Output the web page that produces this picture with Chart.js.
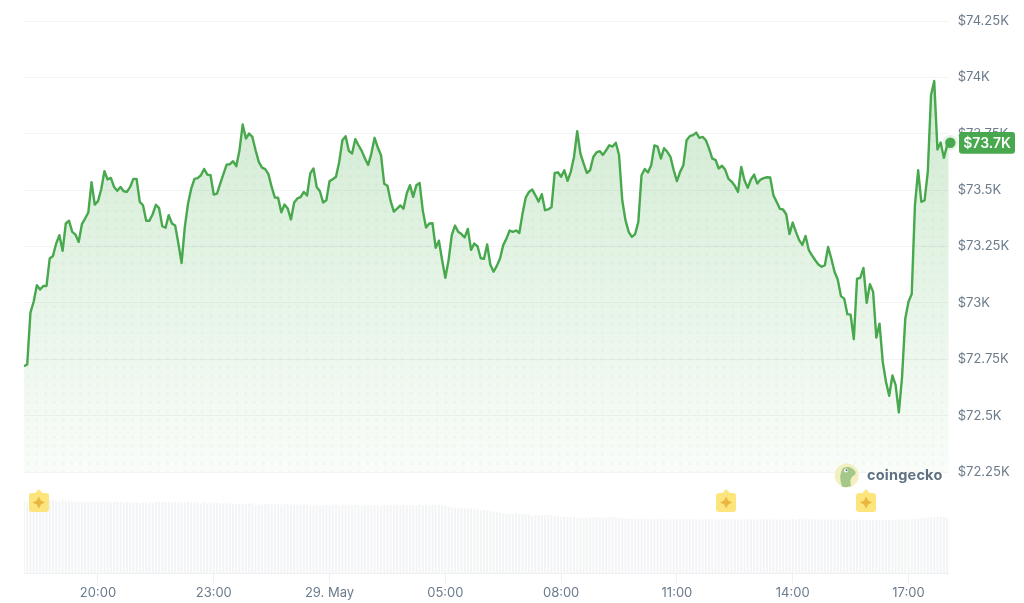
<!DOCTYPE html>
<html>
<head>
<meta charset="utf-8">
<style>
  html, body { margin: 0; padding: 0; background: #fff; }
  canvas { display: block; }
</style>
<script src="https://cdn.jsdelivr.net/npm/chart.js@4/dist/chart.umd.min.js"></script>
</head>
<body>
<canvas id="priceChart" width="1024" height="603"></canvas>
<script>
// one sample every 5 minutes, from 18:05 to 18:05 next day
const prices = [
  72719,72727,72957,73005,73078,73059,73075,73075,73197,73208,
  73263,73300,73231,73352,73364,73315,73303,73270,73349,73374,
  73401,73535,73436,73451,73503,73584,73547,73554,73514,73497,
  73514,73495,73492,73514,73550,73550,73448,73433,73364,73364,
  73393,73435,73420,73340,73333,73389,73352,73343,73263,73177,
  73337,73440,73507,73550,73553,73566,73594,73569,73566,73480,
  73485,73529,73571,73613,73615,73628,73606,73677,73791,73729,
  73751,73736,73677,73625,73600,73593,73571,73514,73467,73466,
  73402,73436,73418,73370,73445,73463,73469,73492,73476,73574,
  73596,73514,73495,73445,73455,73540,73548,73559,73625,73721,
  73739,73674,73662,73726,73699,73674,73640,73612,73662,73732,
  73689,73655,73528,73519,73451,73405,73418,73432,73418,73485,
  73522,73470,73522,73532,73408,73334,73352,73353,73244,73276,
  73189,73111,73189,73300,73343,73315,73305,73290,73328,73235,
  73263,73251,73198,73195,73259,73169,73138,73164,73197,73256,
  73285,73321,73315,73321,73310,73396,73467,73492,73503,73477,
  73449,73482,73411,73415,73424,73576,73579,73559,73588,73541,
  73581,73647,73761,73662,73618,73576,73588,73647,73667,73673,
  73656,73677,73699,73693,73710,73656,73455,73367,73315,73293,
  73305,73359,73566,73594,73578,73610,73698,73693,73640,73686,
  73670,73647,73588,73540,73581,73610,73721,73739,73744,73755,
  73732,73736,73721,73684,73640,73634,73596,73608,73591,73551,
  73538,73519,73492,73603,73544,73510,73547,73569,73529,73547,
  73553,73557,73556,73477,73448,73417,73414,73392,73305,73356,
  73315,73278,73257,73297,73234,73211,73189,73170,73160,73167,
  73248,73197,73138,73104,73030,73019,72950,72948,72839,73107,
  73111,73155,73000,73083,73049,72846,72908,72738,72650,72588,
  72678,72635,72514,72672,72931,73005,73039,73433,73588,73448,
  73455,73581,73921,73984,73680,73711,73643,73699,73710
];

// volume per sample, in $B
const volumes = [
  35.6,35.6,35.5,35.5,35.4,35.5,35.6,35.4,36.1,36.0,
  35.3,35.2,36.2,35.7,35.3,35.1,35.0,35.0,35.1,34.9,
  34.9,35.1,34.7,34.8,35.0,35.0,35.1,34.9,35.0,35.1,
  34.8,34.6,34.9,35.0,34.7,34.9,34.5,34.7,35.0,34.6,
  34.6,35.0,35.1,34.9,35.0,35.1,34.8,34.9,34.7,35.1,
  34.9,35.0,34.8,35.1,34.7,34.4,34.9,34.3,34.6,34.7,
  34.6,34.2,34.2,34.7,34.4,33.8,34.3,34.0,34.3,34.1,
  34.3,34.2,33.5,33.9,33.6,34.3,34.1,33.9,34.0,33.8,
  33.6,34.0,34.0,33.5,33.7,33.8,33.6,33.9,33.7,33.4,
  33.2,33.7,33.1,33.5,33.6,33.4,33.7,33.9,33.3,33.8,
  33.6,33.8,33.4,33.9,33.5,33.2,33.8,33.5,33.3,33.6,
  33.5,32.9,33.6,33.3,33.6,33.7,33.6,33.3,33.7,33.5,
  33.3,33.5,33.2,33.7,33.4,33.6,33.3,33.7,33.6,33.5,
  33.3,33.0,32.7,32.3,32.1,32.0,31.8,31.9,32.0,31.7,
  31.8,31.3,31.0,30.9,30.6,30.5,30.1,29.9,29.6,29.4,
  29.2,29.0,29.2,29.3,29.1,29.0,29.1,28.7,28.2,28.3,
  28.4,28.5,28.6,28.7,28.4,27.9,27.8,27.6,27.8,27.5,
  27.4,27.6,27.2,27.3,27.0,27.2,27.3,27.4,27.5,27.2,
  27.0,27.4,27.3,27.6,27.5,27.0,26.9,26.7,26.8,26.6,
  26.5,26.8,26.6,26.4,26.7,26.5,26.4,26.6,26.8,26.4,
  26.3,26.5,26.4,26.6,26.4,26.3,26.5,26.7,26.5,26.3,
  26.4,26.2,26.6,26.4,26.3,26.5,26.2,26.6,26.4,26.3,
  26.5,26.3,26.2,26.5,26.4,26.3,26.5,26.4,26.2,26.6,
  26.3,26.4,26.7,26.3,26.2,26.4,26.3,26.5,26.2,26.4,
  26.3,26.7,26.9,26.6,26.4,26.5,26.4,26.3,26.5,26.2,
  26.4,26.3,26.5,26.2,26.3,26.4,26.2,26.3,26.1,26.2,
  26.3,26.0,26.2,26.1,26.0,26.2,26.3,26.1,26.0,26.2,
  26.3,26.1,26.4,26.3,26.2,26.5,26.4,26.6,26.7,26.9,
  27.2,27.4,27.5,27.3,27.6,27.5,27.7,27.4,27.5
];

const xTickSamples = [23, 59, 95, 131, 167, 203, 239, 275];
const xTickLabels = ["20:00", "23:00", "29. May", "05:00", "08:00", "11:00", "14:00", "17:00"];
const eventSamples = [4.6, 218.3, 261.8];
const eventLevel = 35.9;

const GREEN = "#48a84d";
const TICK = "#6b7b8a";
const GRID = "#f2f3f5";

const canvas = document.getElementById("priceChart");
const ctx = canvas.getContext("2d");

// area fill fades out towards the bottom of the price pane
const areaFill = ctx.createLinearGradient(0, 60, 0, 472);
areaFill.addColorStop(0, "rgba(76,175,80,0.27)");
areaFill.addColorStop(1, "rgba(76,175,80,0.03)");

// dot texture inside the area
function dotPattern() {
  const tile = document.createElement("canvas");
  tile.width = 87;
  tile.height = 87;
  const t = tile.getContext("2d");
  t.fillStyle = "rgba(76,175,80,0.05)";
  for (let r = 0; r < 10; r++) {
    for (let c = 0; c < 10; c++) {
      t.beginPath();
      t.arc(2.2 + c * 8.7, 2.2 + r * 8.7, 1.6, 0, Math.PI * 2);
      t.fill();
    }
  }
  return ctx.createPattern(tile, "repeat");
}

// yellow event flag
function flagIcon() {
  const icon = document.createElement("canvas");
  icon.width = 20;
  icon.height = 23;
  const f = icon.getContext("2d");
  f.fillStyle = "#fce57c";
  f.beginPath();
  f.moveTo(10, 0);
  f.lineTo(13.5, 4);
  f.lineTo(17, 4);
  f.quadraticCurveTo(20, 4, 20, 7);
  f.lineTo(20, 20);
  f.quadraticCurveTo(20, 23, 17, 23);
  f.lineTo(3, 23);
  f.quadraticCurveTo(0, 23, 0, 20);
  f.lineTo(0, 7);
  f.quadraticCurveTo(0, 4, 3, 4);
  f.lineTo(6.5, 4);
  f.closePath();
  f.fill();
  f.fillStyle = "#e9b640";
  f.beginPath();
  f.moveTo(10, 7.5);
  f.lineTo(12, 11.5);
  f.lineTo(16, 13.5);
  f.lineTo(12, 15.5);
  f.lineTo(10, 19.5);
  f.lineTo(8, 15.5);
  f.lineTo(4, 13.5);
  f.lineTo(8, 11.5);
  f.closePath();
  f.fill();
  return icon;
}

const overlay = {
  id: "overlay",
  afterDraw(chart) {
    const c = chart.ctx;
    const last = prices[prices.length - 1];
    const y = chart.scales.y.getPixelForValue(last);

    // last price badge
    c.save();
    c.fillStyle = GREEN;
    c.beginPath();
    c.roundRect(959, y - 10.7, 56, 21.6, 3);
    c.fill();
    c.fillStyle = "#fff";
    c.font = "600 14px Inter";
    c.textAlign = "center";
    c.textBaseline = "middle";
    c.fillText("$" + (last / 1000).toFixed(1) + "K", 987, y + 0.8);

    // watermark
    c.fillStyle = "#f4efc0";
    c.beginPath();
    c.arc(846.7, 475.5, 12, 0, Math.PI * 2);
    c.fill();
    c.fillStyle = "#a3c88a";
    c.beginPath();
    c.moveTo(842, 486.5);
    c.quadraticCurveTo(838, 474, 843, 468);
    c.quadraticCurveTo(850, 465, 855, 471);
    c.quadraticCurveTo(857, 474, 853, 476);
    c.quadraticCurveTo(849, 479, 851, 486);
    c.quadraticCurveTo(846, 488, 842, 486.5);
    c.fill();
    c.fillStyle = "#fff";
    c.beginPath();
    c.arc(846, 470.5, 2, 0, Math.PI * 2);
    c.fill();
    c.fillStyle = "#5c6f7d";
    c.beginPath();
    c.arc(846.5, 470.2, 1, 0, Math.PI * 2);
    c.fill();
    c.fillStyle = "#5e7180";
    c.font = "700 14.5px Inter";
    c.letterSpacing = "0.2px";
    c.textAlign = "left";
    c.fillText("coingecko", 867, 475.5);
    c.restore();
  }
};

new Chart(canvas, {
  data: {
    datasets: [
      {
        type: "line",
        data: prices.map((v, i) => ({ x: i, y: v })),
        yAxisID: "y",
        borderColor: GREEN,
        borderWidth: 2.4,
        borderJoinStyle: "round",
        pointRadius: 0,
        tension: 0,
        fill: "start",
        backgroundColor: areaFill,
        order: 1
      },
      {
        type: "line",
        data: prices.map((v, i) => ({ x: i, y: v })),
        yAxisID: "y",
        borderWidth: 0,
        pointRadius: 0,
        tension: 0,
        fill: "start",
        backgroundColor: dotPattern(),
        order: 2
      },
      {
        type: "line",
        data: [{ x: prices.length - 1, y: prices[prices.length - 1] }],
        yAxisID: "y",
        showLine: false,
        pointRadius: 5.2,
        pointBackgroundColor: GREEN,
        pointBorderColor: "rgba(76,175,80,0.14)",
        pointBorderWidth: 5,
        clip: false,
        order: 0
      },
      {
        type: "bar",
        data: volumes.map((v, i) => ({ x: i, y: v })),
        yAxisID: "vol",
        backgroundColor: "#f3f4f6",
        barThickness: 1.4,
        order: 3
      },
      {
        type: "scatter",
        data: eventSamples.map(s => ({ x: s, y: eventLevel })),
        yAxisID: "vol",
        pointStyle: flagIcon(),
        clip: false,
        order: 0
      }
    ]
  },
  plugins: [overlay],
  options: {
    responsive: false,
    animation: false,
    devicePixelRatio: 1,
    layout: { padding: { left: 24, top: 21, right: 0, bottom: 0 } },
    plugins: { legend: { display: false }, tooltip: { enabled: false } },
    scales: {
      x: {
        type: "linear",
        offset: false,
        min: 0,
        max: 287.5,
        afterBuildTicks: axis => { axis.ticks = xTickSamples.map(v => ({ value: v })); },
        afterFit: axis => { axis.height = 30; },
        border: { color: "#eef0f2" },
        grid: { offset: false, drawOnChartArea: false, tickLength: 10, tickColor: "#eef0f2" },
        ticks: {
          color: TICK,
          font: { family: "Inter", size: 13 },
          padding: 2,
          autoSkip: false,
          maxRotation: 0,
          callback: v => xTickLabels[xTickSamples.indexOf(v)]
        }
      },
      y: {
        position: "right",
        stack: "panes",
        stackWeight: 451,
        min: 72250,
        max: 74250,
        afterFit: axis => { axis.width = 75.3; },
        border: { display: false },
        grid: { color: GRID, drawTicks: false },
        ticks: {
          color: TICK,
          font: { family: "Inter", size: 13 },
          padding: 9,
          stepSize: 250,
          callback: v => "$" + v / 1000 + "K"
        }
      },
      vol: {
        position: "right",
        stack: "panes",
        stackWeight: 101,
        min: 0,
        max: 50,
        afterFit: axis => { axis.width = 75.3; },
        border: { display: false },
        grid: { display: false },
        ticks: { display: false }
      }
    }
  }
});
</script>
</body>
</html>
